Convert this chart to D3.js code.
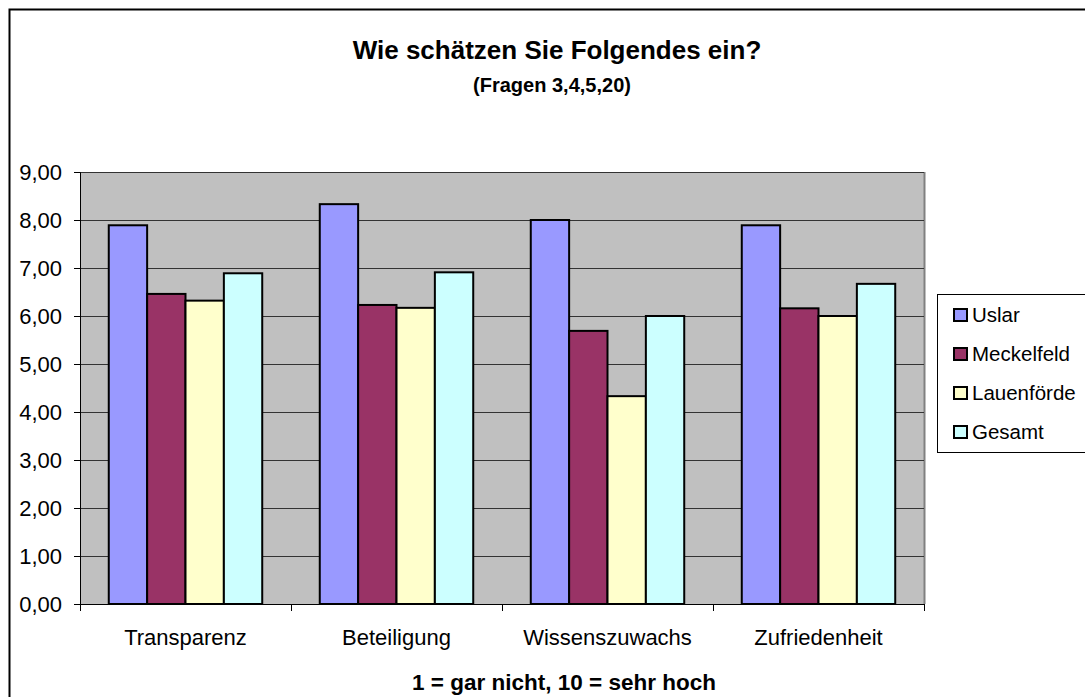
<!DOCTYPE html>
<html lang="de">
<head>
    <meta charset="UTF-8">
    <title>Wie schätzen Sie Folgendes ein?</title>
    <script src="https://cdn.jsdelivr.net/npm/d3@7"></script>
    <style>
        body { margin: 0; background: #fff; }
        text { font-family: "Liberation Sans", Arial, sans-serif; fill: #000; }
        .title { font-size: 26px; font-weight: bold; text-anchor: middle; }
        .subtitle { font-size: 20px; font-weight: bold; text-anchor: middle; }
        .xtitle { font-size: 22.5px; font-weight: bold; text-anchor: middle; }
        .axis text { font-size: 22px; }
        .legend text { font-size: 20.5px; }
    </style>
</head>
<body>
<script>
    const width = 1085;
    const height = 697;

    // data
    const categories = ["Transparenz", "Beteiligung", "Wissenszuwachs", "Zufriedenheit"];
    const seriesNames = ["Uslar", "Meckelfeld", "Lauenförde", "Gesamt"];
    const uslar = [7.89, 8.33, 8.00, 7.89];
    const meckelfeld = [6.46, 6.23, 5.69, 6.16];
    const lauenfoerde = [6.32, 6.17, 4.33, 6.00];
    const gesamt = [6.89, 6.91, 6.00, 6.67];
    const yTicks = [0, 1, 2, 3, 4, 5, 6, 7, 8, 9];
    const colors = ["#9999ff", "#993366", "#ffffcc", "#ccffff"];

    const seriesValues = [uslar, meckelfeld, lauenfoerde, gesamt];

    const plot = {left: 80, top: 172, right: 924, bottom: 604};

    const svg = d3.select("body").append("svg")
        .attr("width", width).attr("height", height);

    // outer frame
    svg.append("rect")
        .attr("x", 9.5).attr("y", 9.5)
        .attr("width", width + 20).attr("height", height + 20)
        .attr("fill", "none").attr("stroke", "#000").attr("stroke-width", 2);

    svg.append("text").attr("class", "title").attr("x", 557).attr("y", 59)
        .text("Wie schätzen Sie Folgendes ein?");
    svg.append("text").attr("class", "subtitle").attr("x", 552).attr("y", 92)
        .text("(Fragen 3,4,5,20)");

    const x0 = d3.scaleBand()
        .domain(categories)
        .range([plot.left, plot.right])
        .paddingInner(0).paddingOuter(0);

    const x1 = d3.scaleBand()
        .domain(seriesNames)
        .range([0, x0.bandwidth()])
        .paddingOuter(0.75).paddingInner(0);

    const y = d3.scaleLinear()
        .domain([0, 9])
        .range([plot.bottom, plot.top]);

    // plot background
    svg.append("rect")
        .attr("x", plot.left).attr("y", plot.top)
        .attr("width", plot.right - plot.left).attr("height", plot.bottom - plot.top)
        .attr("fill", "#c0c0c0");
    svg.append("line")
        .attr("x1", plot.right + 0.5).attr("x2", plot.right + 0.5)
        .attr("y1", plot.top).attr("y2", plot.bottom)
        .attr("stroke", "#808080").attr("stroke-width", 2);

    // gridlines
    svg.append("g").selectAll("line")
        .data(yTicks.filter(d => d > 0))
        .enter().append("line")
        .attr("x1", plot.left).attr("x2", plot.right)
        .attr("y1", d => Math.round(y(d)) + 0.5).attr("y2", d => Math.round(y(d)) + 0.5)
        .attr("stroke", "#333").attr("stroke-width", 1);

    // bars
    const groups = svg.append("g").selectAll("g")
        .data(categories)
        .enter().append("g")
        .attr("transform", d => `translate(${x0(d)},0)`);

    groups.selectAll("rect")
        .data((c, i) => seriesNames.map((s, j) => ({s: s, j: j, v: seriesValues[j][i]})))
        .enter().append("rect")
        .attr("x", d => x1(d.s))
        .attr("y", d => y(d.v))
        .attr("width", x1.bandwidth())
        .attr("height", d => y(0) - y(d.v))
        .attr("fill", d => colors[d.j])
        .attr("stroke", "#000").attr("stroke-width", 2);

    // y axis
    const yAxis = d3.axisLeft(y)
        .tickValues(yTicks)
        .tickSize(6)
        .tickPadding(12)
        .tickFormat(d => d3.format(".2f")(d).replace(".", ","));
    const gy = svg.append("g").attr("class", "axis")
        .attr("transform", `translate(${plot.left},0)`)
        .call(yAxis);
    gy.select(".domain").attr("stroke", "#000").attr("stroke-width", 1);
    gy.selectAll(".tick line").attr("stroke", "#000");

    // x axis
    const xAxis = d3.axisBottom(x0).tickSize(0).tickPadding(25);
    const gx = svg.append("g").attr("class", "axis")
        .attr("transform", `translate(0,${plot.bottom})`)
        .call(xAxis);
    gx.select(".domain").remove();
    svg.append("line")
        .attr("x1", plot.left - 6).attr("x2", plot.right)
        .attr("y1", plot.bottom + 0.5).attr("y2", plot.bottom + 0.5)
        .attr("stroke", "#000");
    svg.append("g").selectAll("line")
        .data(categories.concat(["end"]))
        .enter().append("line")
        .attr("x1", (d, i) => Math.round(plot.left + i * x0.bandwidth()) + 0.5)
        .attr("x2", (d, i) => Math.round(plot.left + i * x0.bandwidth()) + 0.5)
        .attr("y1", plot.bottom).attr("y2", plot.bottom + 7)
        .attr("stroke", "#000");

    svg.append("text").attr("class", "xtitle").attr("x", 564).attr("y", 690)
        .text("1 = gar nicht, 10 = sehr hoch");

    // legend
    const legend = svg.append("g").attr("class", "legend");
    legend.append("rect")
        .attr("x", 937.5).attr("y", 294.5)
        .attr("width", 160).attr("height", 158)
        .attr("fill", "#fff").attr("stroke", "#000");
    const item = legend.selectAll("g")
        .data(seriesNames)
        .enter().append("g")
        .attr("transform", (d, i) => `translate(953,${322 + i * 39})`);
    item.append("rect")
        .attr("x", 1).attr("y", -13)
        .attr("width", 13).attr("height", 12)
        .attr("fill", (d, i) => colors[i])
        .attr("stroke", "#000").attr("stroke-width", 2);
    item.append("text")
        .attr("x", 19).attr("y", 0)
        .text(d => d);
</script>
</body>
</html>
